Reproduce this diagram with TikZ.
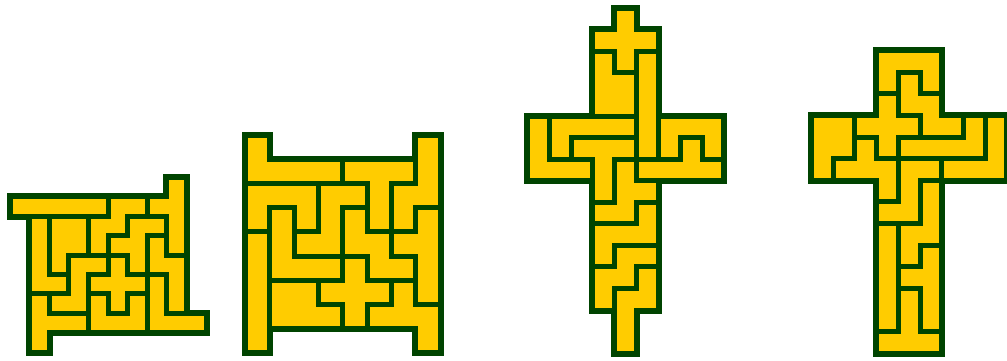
\documentclass[tikz,border=0pt]{standalone}
\definecolor{dg}{RGB}{0,68,0}
\definecolor{yl}{RGB}{255,204,0}
\tikzset{
  outerpass/.style={draw=dg, line width=7pt},
  piecepass/.style={fill=yl, draw=dg, line width=5pt},
}
% Figure 1 pieces
\newcommand\figA[1]{%
  \draw[#1] (0,1) rectangle (5,2);
  \draw[#1] (8,0) -- (9,0) -- (9,4) -- (8,4) -- (8,2) -- (7,2) -- (7,1) -- (8,1) -- cycle;
  \draw[#1] (5,1) -- (7,1) -- (7,2) -- (6,2) -- (6,3) -- (5,3) -- (5,4) -- (4,4) -- (4,2) -- (5,2) -- cycle;
  \draw[#1] (1,2) -- (2,2) -- (2,5) -- (3,5) -- (3,6) -- (1,6) -- cycle;
  \draw[#1] (2,2) -- (4,2) -- (4,4) -- (3,4) -- (3,5) -- (2,5) -- cycle;
  \draw[#1] (3,4) -- (5,4) -- (5,5) -- (4,5) -- (4,7) -- (2,7) -- (2,6) -- (3,6) -- cycle;
  \draw[#1] (1,6) -- (2,6) -- (2,7) -- (4,7) -- (4,8) -- (2,8) -- (2,9) -- (1,9) -- cycle;
  \draw[#1] (5,4) -- (6,4) -- (6,5) -- (7,5) -- (7,6) -- (6,6) -- (6,7) -- (5,7) -- (5,6) -- (4,6) -- (4,5) -- (5,5) -- cycle;
  \draw[#1] (4,6) -- (5,6) -- (5,7) -- (6,7) -- (6,6) -- (7,6) -- (7,8) -- (4,8) -- cycle;
  \draw[#1] (7,5) -- (8,5) -- (8,7) -- (10,7) -- (10,8) -- (7,8) -- cycle;
  \draw[#1] (6,2) -- (8,2) -- (8,3) -- (7,3) -- (7,5) -- (6,5) -- (6,4) -- (5,4) -- (5,3) -- (6,3) -- cycle;
  \draw[#1] (7,3) -- (8,3) -- (8,4) -- (9,4) -- (9,7) -- (8,7) -- (8,5) -- (7,5) -- cycle;
}
% Figure 2 pieces
\newcommand\figB[1]{%
  \draw[#1] (0,0) -- (1,0) -- (1,1) -- (4,1) -- (4,2) -- (0,2) -- cycle;
  \draw[#1] (4,1) -- (7,1) -- (7,2) -- (6,2) -- (6,4) -- (5,4) -- (5,2) -- (4,2) -- cycle;
  \draw[#1] (7,0) -- (8,0) -- (8,3) -- (7,3) -- (7,4) -- (6,4) -- (6,2) -- (7,2) -- cycle;
  \draw[#1] (0,2) -- (3,2) -- (3,4) -- (2,4) -- (2,3) -- (1,3) -- (1,4) -- (0,4) -- cycle;
  \draw[#1] (0,4) rectangle (1,9);
  \draw[#1] (3,2) -- (5,2) -- (5,3) -- (4,3) -- (4,5) -- (2,5) -- (2,4) -- (3,4) -- cycle;
  \draw[#1] (1,3) -- (2,3) -- (2,5) -- (4,5) -- (4,6) -- (1,6) -- cycle;
  \draw[#1] (4,3) -- (5,3) -- (5,4) -- (6,4) -- (6,5) -- (7,5) -- (7,6) -- (5,6) -- (5,5) -- (4,5) -- cycle;
  \draw[#1] (7,3) -- (8,3) -- (8,7) -- (7,7) -- (7,5) -- (6,5) -- (6,4) -- (7,4) -- cycle;
  \draw[#1] (4,5) -- (5,5) -- (5,6) -- (6,6) -- (6,7) -- (5,7) -- (5,8) -- (4,8) -- (4,7) -- (3,7) -- (3,6) -- (4,6) -- cycle;
  \draw[#1] (1,6) -- (3,6) -- (3,7) -- (4,7) -- (4,8) -- (1,8) -- cycle;
  \draw[#1] (6,6) -- (7,6) -- (7,7) -- (8,7) -- (8,9) -- (7,9) -- (7,8) -- (5,8) -- (5,7) -- (6,7) -- cycle;
}
% Figure 3 pieces
\newcommand\figC[1]{%
  \draw[#1] (4,0) -- (5,0) -- (5,1) -- (6,1) -- (6,2) -- (5,2) -- (5,3) -- (4,3) -- (4,2) -- (3,2) -- (3,1) -- (4,1) -- cycle;
  \draw[#1] (3,2) -- (4,2) -- (4,3) -- (5,3) -- (5,5) -- (3,5) -- cycle;
  \draw[#1] (5,2) rectangle (6,7);
  \draw[#1] (0,5) -- (1,5) -- (1,7) -- (3,7) -- (3,8) -- (0,8) -- cycle;
  \draw[#1] (1,5) -- (5,5) -- (5,6) -- (2,6) -- (2,7) -- (1,7) -- cycle;
  \draw[#1] (6,5) -- (9,5) -- (9,7) -- (8,7) -- (8,6) -- (7,6) -- (7,7) -- (6,7) -- cycle;
  \draw[#1] (5,7) -- (7,7) -- (7,6) -- (8,6) -- (8,7) -- (9,7) -- (9,8) -- (5,8) -- cycle;
  \draw[#1] (2,6) -- (5,6) -- (5,7) -- (4,7) -- (4,9) -- (3,9) -- (3,7) -- (2,7) -- cycle;
  \draw[#1] (4,7) -- (5,7) -- (5,8) -- (6,8) -- (6,9) -- (5,9) -- (5,10) -- (3,10) -- (3,9) -- (4,9) -- cycle;
  \draw[#1] (5,9) -- (6,9) -- (6,11) -- (4,11) -- (4,12) -- (3,12) -- (3,10) -- (5,10) -- cycle;
  \draw[#1] (4,11) -- (6,11) -- (6,12) -- (5,12) -- (5,13) -- (4,13) -- (4,14) -- (3,14) -- (3,12) -- (4,12) -- cycle;
  \draw[#1] (5,12) -- (6,12) -- (6,14) -- (5,14) -- (5,16) -- (4,16) -- (4,13) -- (5,13) -- cycle;
}
% Figure 4 pieces
\newcommand\figD[1]{%
  \draw[#1] (3,0) -- (6,0) -- (6,2) -- (5,2) -- (5,1) -- (4,1) -- (4,2) -- (3,2) -- cycle;
  \draw[#1] (4,1) -- (5,1) -- (5,2) -- (6,2) -- (6,3) -- (7,3) -- (7,4) -- (5,4) -- (5,3) -- (4,3) -- cycle;
  \draw[#1] (3,2) -- (4,2) -- (4,3) -- (5,3) -- (5,4) -- (4,4) -- (4,5) -- (3,5) -- (3,4) -- (2,4) -- (2,3) -- (3,3) -- cycle;
  \draw[#1] (0,3) -- (2,3) -- (2,5) -- (1,5) -- (1,6) -- (0,6) -- cycle;
  \draw[#1] (2,4) -- (3,4) -- (3,5) -- (4,5) -- (4,7) -- (3,7) -- (3,6) -- (1,6) -- (1,5) -- (2,5) -- cycle;
  \draw[#1] (7,3) -- (8,3) -- (8,5) -- (4,5) -- (4,4) -- (7,4) -- cycle;
  \draw[#1] (8,3) -- (9,3) -- (9,6) -- (6,6) -- (6,5) -- (8,5) -- cycle;
  \draw[#1] (4,5) -- (6,5) -- (6,6) -- (5,6) -- (5,8) -- (3,8) -- (3,7) -- (4,7) -- cycle;
  \draw[#1] (5,6) -- (6,6) -- (6,9) -- (5,9) -- (5,10) -- (4,10) -- (4,8) -- (5,8) -- cycle;
  \draw[#1] (3,8) rectangle (4,13);
  \draw[#1] (5,9) -- (6,9) -- (6,13) -- (5,13) -- (5,11) -- (4,11) -- (4,10) -- (5,10) -- cycle;
  \draw[#1] (4,11) -- (5,11) -- (5,13) -- (6,13) -- (6,14) -- (3,14) -- (3,13) -- (4,13) -- cycle;
}
\begin{document}
\begin{tikzpicture}[x=1pt,y=-1pt]
  \useasboundingbox (0,0) rectangle (1007,360);
  \begin{scope}[shift={(10,177.5)}, x=19.6pt, y=-19.4pt]
    \figA{outerpass}
    \figA{piecepass}
  \end{scope}
  \begin{scope}[shift={(245.3,135)}, x=24.35pt, y=-24.2pt]
    \figB{outerpass}
    \figB{piecepass}
  \end{scope}
  \begin{scope}[shift={(527.3,8.3)}, x=21.85pt, y=-21.55pt]
    \figC{outerpass}
    \figC{piecepass}
  \end{scope}
  \begin{scope}[shift={(811.5,50.7)}, x=21.7pt, y=-21.6pt]
    \figD{outerpass}
    \figD{piecepass}
  \end{scope}
\end{tikzpicture}
\end{document}
